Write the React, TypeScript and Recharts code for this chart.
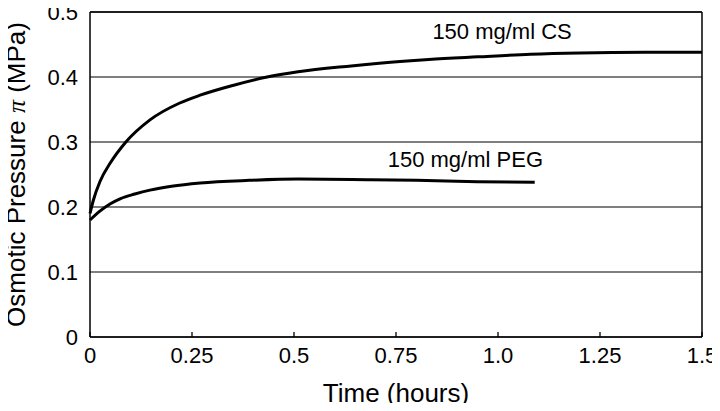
import { LineChart, Line, XAxis, YAxis, CartesianGrid, ReferenceLine, ReferenceDot } from 'recharts';

// time in hours, pressure in MPa
const csTime = [0, 0.008, 0.025, 0.05, 0.088, 0.147, 0.22, 0.27, 0.35, 0.434, 0.51, 0.64, 0.76, 0.83, 0.95, 1.08, 1.2, 1.36, 1.5];
const csPressure = [0.19, 0.21, 0.24, 0.268, 0.3, 0.334, 0.36, 0.372, 0.387, 0.4, 0.408, 0.417, 0.424, 0.427, 0.431, 0.435, 0.437, 0.438, 0.438];

const pegTime = [0, 0.025, 0.05, 0.075, 0.11, 0.147, 0.2, 0.27, 0.39, 0.51, 0.68, 0.8, 0.95, 1.09];
const pegPressure = [0.18, 0.194, 0.205, 0.213, 0.22, 0.226, 0.232, 0.237, 0.241, 0.243, 0.242, 0.241, 0.239, 0.238];

const xTicks = [0, 0.25, 0.5, 0.75, 1, 1.25, 1.5];
const xTickLabels = ['0', '0.25', '0.5', '0.75', '1.0', '1.25', '1.5'];
const yTicks = [0, 0.1, 0.2, 0.3, 0.4, 0.5];
const yTickLabels = ['0', '0.1', '0.2', '0.3', '0.4', '0.5'];

const csData = csTime.map((t, i) => ({ t, p: csPressure[i] }));
const pegData = pegTime.map((t, i) => ({ t, p: pegPressure[i] }));

const FONT = '"Liberation Sans", Arial, sans-serif';

function XTick(props: any) {
  const { x, y, payload } = props;
  const axisY = y - 10;
  const i = xTicks.indexOf(payload.value);
  return (
    <g>
      <line x1={x} x2={x} y1={axisY} y2={axisY - 5} stroke="#000" strokeWidth={1.3} />
      <text x={x} y={y} dy="0.71em" textAnchor="middle" fontSize={22} fill="#000" fontFamily={FONT}>
        {xTickLabels[i]}
      </text>
    </g>
  );
}

function XTitle(props: any) {
  const { viewBox } = props;
  return (
    <text x={viewBox.x + viewBox.width / 2} y={viewBox.y + 56} textAnchor="middle" dominantBaseline="central"
      fontSize={26} fill="#000" fontFamily={FONT}>
      Time (hours)
    </text>
  );
}

function YTitle(props: any) {
  const { viewBox } = props;
  const cx = 16;
  const cy = viewBox.y + viewBox.height / 2;
  return (
    <text x={cx} y={cy} transform={`rotate(-90 ${cx} ${cy})`} textAnchor="middle" dominantBaseline="central"
      fontSize={26} fill="#000" fontFamily={FONT}>
      Osmotic Pressure <tspan fontStyle="italic" fontFamily="'Liberation Serif', serif">π</tspan> (MPa)
    </text>
  );
}

export default function App() {
  return (
    <div style={{ width: 720, height: 411, margin: -8, fontFamily: FONT }}>
      <LineChart width={720} height={411} margin={{ top: 12, right: 18, left: 0, bottom: 0 }}>
        <CartesianGrid vertical={false} stroke="#000" strokeWidth={1.2} />
        <XAxis
          type="number"
          dataKey="t"
          domain={[0, 1.5]}
          ticks={xTicks}
          interval={0}
          allowDuplicatedCategory={false}
          height={74}
          tickSize={0}
          tickMargin={10}
          tickLine={false}
          axisLine={{ stroke: '#000', strokeWidth: 1.5 }}
          tick={<XTick />}
          label={<XTitle />}
        />
        <YAxis
          type="number"
          dataKey="p"
          domain={[0, 0.5]}
          ticks={yTicks}
          interval={0}
          width={90}
          tickSize={0}
          tickMargin={12}
          tickLine={false}
          tickFormatter={(v: number) => yTickLabels[yTicks.indexOf(v)] ?? String(v)}
          tick={{ fill: '#000', fontSize: 22, fontFamily: FONT }}
          axisLine={{ stroke: '#000', strokeWidth: 1.5 }}
          label={<YTitle />}
        />
        <ReferenceLine x={1.5} stroke="#000" strokeWidth={1.5} />
        <ReferenceLine y={0.5} stroke="#000" strokeWidth={1.5} />
        <Line data={csData} dataKey="p" type="monotone" stroke="#000" strokeWidth={3} dot={false} isAnimationActive={false} />
        <Line data={pegData} dataKey="p" type="monotone" stroke="#000" strokeWidth={3} dot={false} isAnimationActive={false} />
        <ReferenceDot x={1.01} y={0.47} r={0} fill="none" stroke="none"
          label={{ value: '150 mg/ml CS', position: 'center', fill: '#000', fontSize: 22, fontFamily: FONT }} />
        <ReferenceDot x={0.92} y={0.273} r={0} fill="none" stroke="none"
          label={{ value: '150 mg/ml PEG', position: 'center', fill: '#000', fontSize: 22, fontFamily: FONT }} />
      </LineChart>
    </div>
  );
}
